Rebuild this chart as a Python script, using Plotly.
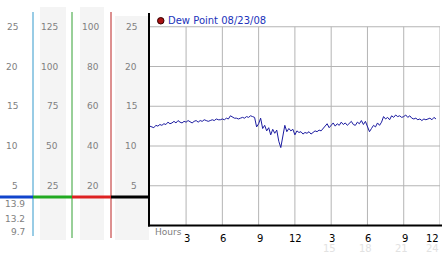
import plotly.graph_objects as go

W, H = 442, 253

# ---- data ----
dew_point = [
    12.5, 12.4, 12.3, 12.6, 12.5, 12.7,
    12.6, 12.8, 12.7, 13.0, 12.8, 12.9,
    13.1, 12.9, 13.2, 13.0, 12.9, 13.1,
    13.0, 13.2, 13.1, 12.9, 13.1, 13.2,
    13.0, 13.2, 13.1, 13.3, 13.2, 13.1,
    13.2, 13.3, 13.2, 13.4, 13.3, 13.3,
    13.4, 13.3, 13.5, 13.4, 13.8, 13.6,
    13.5, 13.5, 13.4, 13.5, 13.6, 13.5,
    13.7, 13.6, 13.8, 13.7, 13.6, 12.4,
    12.8, 13.5, 12.2, 12.6, 11.9, 12.3,
    11.4, 12.1, 11.6, 12.0, 10.6, 9.8,
    11.2, 12.6, 11.8, 12.2, 11.9, 12.1,
    11.4, 11.9, 11.7, 11.8, 11.5, 11.7,
    11.6, 11.8, 11.5, 11.7, 11.9, 11.8,
    12.0, 11.9, 12.2, 12.4, 12.8, 12.3,
    12.6, 12.9, 12.5, 12.8, 12.6, 13.0,
    12.7, 12.9, 12.6, 12.8, 13.1, 12.7,
    12.6, 13.0, 12.8, 13.2, 12.7, 13.1,
    12.3, 11.8, 12.2, 12.6, 12.4, 12.9,
    12.6, 13.0, 13.7, 13.4, 13.6, 13.3,
    13.8, 13.6, 13.9, 13.7, 13.8, 13.6,
    13.7, 13.9, 13.6, 13.8, 13.5, 13.4,
    13.5, 13.3, 13.4, 13.2, 13.4, 13.3,
    13.4, 13.5, 13.3, 13.6, 13.4,
]
hours = [i / 6 for i in range(len(dew_point))]

y_ticks = [5, 10, 15, 20, 25]
col1_labels = ["5", "10", "15", "20", "25"]
col2_labels = ["25", "50", "75", "100", "125"]
col3_labels = ["20", "40", "60", "80", "100"]
col4_labels = ["5", "10", "15", "20", "25"]
stat_labels = ["13.9", "13.2", "9.7"]
x_ticks = [3, 6, 9, 12, 15, 18, 21, 24]
x_tick_labels = ["3", "6", "9", "12", "3", "6", "9", "12"]
x_sub_ticks = [15, 18, 21, 24]
x_sub_labels = ["15", "18", "21", "24"]
legend_label = "Dew Point 08/23/08"

# ---- geometry helpers (pixels -> paper) ----
def px(x):
    return x / W

def py(y):
    return 1 - y / H

X0, X1 = 149.8, 440.0
Y0 = 225.5          # value 0
PPU = 7.95          # pixels per unit
YTOP = 13.0
ymax = (Y0 - YTOP) / PPU

def vy(v):
    return Y0 - v * PPU

def hx(h):
    return X0 + (X1 - X0) * h / 24

fig = go.Figure()

fig.add_trace(go.Scatter(
    x=hours, y=dew_point, mode="lines",
    line=dict(color="#1c1ca0", width=1), hoverinfo="skip", showlegend=False,
))

# small tick marks on left axis
fig.add_trace(go.Scatter(
    x=[-0.22] * len(y_ticks), y=y_ticks, mode="markers",
    marker=dict(symbol="x-thin", size=3, line=dict(color="black", width=1)),
    cliponaxis=False, hoverinfo="skip", showlegend=False,
))
# small tick marks below x axis
fig.add_trace(go.Scatter(
    x=x_ticks, y=[(Y0 - 230.5) / PPU] * len(x_ticks), mode="markers",
    marker=dict(symbol="x-thin", size=3, line=dict(color="black", width=1)),
    cliponaxis=False, hoverinfo="skip", showlegend=False,
))

shapes = []
GREY_BG = "#f4f4f4"
for (a, b, top) in [(40, 66, 7), (80, 104, 7), (115, 149, 16)]:
    shapes.append(dict(type="rect", xref="paper", yref="paper",
                       x0=px(a), x1=px(b), y0=py(240), y1=py(top),
                       fillcolor=GREY_BG, line=dict(width=0), layer="below"))
# white plot background over panel
shapes.append(dict(type="rect", xref="paper", yref="paper",
                   x0=px(X0), x1=px(442), y0=py(Y0), y1=py(0),
                   fillcolor="white", line=dict(width=0), layer="below"))

# vertical coloured separators
for (x, c, y2) in [(33, "#3399cc", 236), (72, "#33a033", 238), (111, "#bb2222", 238)]:
    shapes.append(dict(type="line", xref="paper", yref="paper",
                       x0=px(x), x1=px(x), y0=py(12), y1=py(y2),
                       line=dict(color=c, width=1)))
# horizontal coloured baseline
for (a, b, c) in [(0, 33, "#1144cc"), (33, 72, "#22aa22"), (72, 111, "#dd2222"), (111, 149, "#000000")]:
    shapes.append(dict(type="line", xref="paper", yref="paper",
                       x0=px(a), x1=px(b), y0=py(197), y1=py(197),
                       line=dict(color=c, width=3)))

# gridlines
for v in y_ticks:
    shapes.append(dict(type="line", xref="x", yref="y", x0=0, x1=24, y0=v, y1=v,
                       line=dict(color="#b4b4b4", width=1), layer="below"))
for h in x_ticks:
    shapes.append(dict(type="line", xref="x", yref="y", x0=h, x1=h, y0=0, y1=25,
                       line=dict(color="#b4b4b4", width=1), layer="below"))

# axes
shapes.append(dict(type="line", xref="paper", yref="paper",
                   x0=px(149), x1=px(149), y0=py(YTOP), y1=py(Y0 + 1),
                   line=dict(color="black", width=2)))
shapes.append(dict(type="line", xref="paper", yref="paper",
                   x0=px(148), x1=px(442), y0=py(Y0), y1=py(Y0),
                   line=dict(color="black", width=2)))

annotations = []
FONT = "DejaVu Sans"
GREY_TXT = "#808080"

def label(x, y, text, color=GREY_TXT, size=9, xanchor="right"):
    annotations.append(dict(x=px(x), y=py(y), xref="paper", yref="paper", text=text,
                            showarrow=False, xanchor=xanchor, yanchor="middle",
                            font=dict(family=FONT, size=size, color=color)))

for v, l1, l2, l3, l4 in zip(y_ticks, col1_labels, col2_labels, col3_labels, col4_labels):
    yy = vy(v)
    label(20, yy, l1)
    label(60, yy, l2)
    label(101, yy, l3)
    label(139, yy, l4)

for yy, t in zip([204, 218.5, 232], stat_labels):
    label(27, yy, t)

# x tick labels
for h, t in zip(x_ticks, x_tick_labels):
    if h == 24:
        label(441, 238.5, t, color="black", size=10, xanchor="right")
    else:
        label(hx(h) + 1, 238.5, t, color="black", size=10, xanchor="center")
for h, t in zip(x_sub_ticks, x_sub_labels):
    if h == 24:
        label(441, 248, t, color="#e2e2e2", size=10, xanchor="right")
    else:
        label(hx(h) - 2, 248, t, color="#e2e2e2", size=10, xanchor="center")

label(153, 231.5, "Hours", color=GREY_TXT, size=9, xanchor="left")

# legend
annotations.append(dict(x=px(166), y=py(20.5), xref="paper", yref="paper", text=legend_label,
                        showarrow=False, xanchor="left", yanchor="middle",
                        font=dict(family=FONT, size=10, color="#2233bb")))
shapes.append(dict(type="circle", xref="paper", yref="paper",
                   x0=px(157.5), x1=px(164), y0=py(17.5), y1=py(24),
                   fillcolor="#aa1111", line=dict(color="#330000", width=1)))

fig.update_layout(
    width=W, height=H,
    margin=dict(l=0, r=0, t=0, b=0),
    paper_bgcolor="white", plot_bgcolor="rgba(0,0,0,0)",
    xaxis=dict(domain=[px(X0), px(X1)], range=[0, 24], showgrid=False, zeroline=False,
               showticklabels=False, showline=False, fixedrange=True),
    yaxis=dict(domain=[py(Y0), py(YTOP)], range=[0, ymax], showgrid=False, zeroline=False,
               showticklabels=False, showline=False, fixedrange=True),
    shapes=shapes, annotations=annotations, showlegend=False,
)

fig.write_html("out.html")
